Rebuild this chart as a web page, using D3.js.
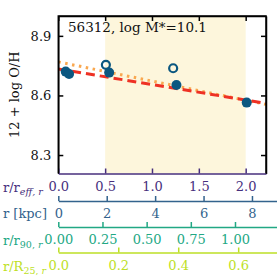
<!DOCTYPE html>
<html><head><meta charset="utf-8">
<script src="https://cdn.jsdelivr.net/npm/d3@7"></script>
<style>body{margin:0;background:#fff}svg{display:block}text{font-family:"DejaVu Serif",serif}</style>
</head><body><svg id="c" width="277" height="277"></svg>
<script>
// ---- data ----
const filledR  = [0.079, 0.115, 0.543, 1.261, 2.011];
const filledOH = [8.720, 8.708, 8.715, 8.653, 8.564];
const openR    = [0.508, 1.226];
const openOH   = [8.754, 8.737];
const fitR       = [0.0, 2.217];
const redFitOH    = [8.733, 8.560];
const orangeFitOH = [8.769, 8.555];
const shadeR = [0.5, 2.0];
const yTicks = [8.3, 8.6, 8.9];
const reffTicks = [0.0, 0.5, 1.0, 1.5, 2.0];
const kpcTicks = [0, 2, 4, 6, 8];
const r90Ticks = [0.00, 0.25, 0.50, 0.75, 1.00];
const r25Ticks = [0.0, 0.2, 0.4, 0.6];
const reffKpc = 3.87, r90InReff = 1.886, r25InReff = 3.20;
const title = "56312, log M*=10.1";

const svg = d3.select("#c");
const L = 58.3, R = 266, T = 16, B = 173.5, FULLR = 277;
const x = d3.scaleLinear().domain([0, 2.217]).range([L, R]);
const y = d3.scaleLinear().domain([8.207, 9.0]).range([B, T]);
const maxReffFull = x.invert(FULLR);

const cPurple = "#472f7d", cBlue = "#33638d", cGreen = "#22a884", cYellow = "#bddf26";
const cPoint = "#0b5780";

// shading
svg.append("rect").attr("x", x(shadeR[0])).attr("y", T).attr("width", x(shadeR[1]) - x(shadeR[0])).attr("height", B - T).attr("fill", "#fdf6dc");

// fit lines
const line = d3.line().x(d => x(d[0])).y(d => y(d[1]));
svg.append("path").attr("d", line(fitR.map((r, i) => [r, orangeFitOH[i]]))).attr("stroke", "#f9a850").attr("stroke-width", 3).attr("stroke-dasharray", "2.5,4.5").attr("fill", "none");
svg.append("path").attr("d", line(fitR.map((r, i) => [r, redFitOH[i]]))).attr("stroke", "#ee3124").attr("stroke-width", 3).attr("stroke-dasharray", "9,5").attr("fill", "none");

// points
svg.selectAll("circle.open").data(openR).enter().append("circle").attr("cx", d => x(d)).attr("cy", (d, i) => y(openOH[i])).attr("r", 4).attr("fill", "none").attr("stroke", cPoint).attr("stroke-width", 2.2);
svg.selectAll("circle.fill").data(filledR).enter().append("circle").attr("cx", d => x(d)).attr("cy", (d, i) => y(filledOH[i])).attr("r", 5).attr("fill", cPoint);

// frame axes
const yl = svg.append("g").attr("transform", `translate(${L},0)`).call(d3.axisLeft(y).tickValues(yTicks).tickSize(-5).tickSizeOuter(0).tickPadding(7).tickFormat(d3.format(".1f")));
const yr = svg.append("g").attr("transform", `translate(${R},0)`).call(d3.axisRight(y).tickValues(yTicks).tickSize(-5).tickSizeOuter(0).tickFormat(""));
const xt = svg.append("g").attr("transform", `translate(0,${T})`).call(d3.axisTop(x).tickValues(reffTicks).tickSize(-5).tickSizeOuter(0).tickFormat(""));
[yl, yr, xt].forEach(g => { g.selectAll("path,line").attr("stroke", "#000").attr("stroke-width", 1.5); g.selectAll("text").attr("font-size", 13).attr("fill", "#111").style("font-family", "DejaVu Serif"); });

// secondary bottom axes
function bottomAxis(yPos, factor, ticks, fmt, color, fullWidth) {
  const maxR = fullWidth ? maxReffFull : 2.217;
  const s = d3.scaleLinear().domain([0, maxR * factor]).range([L, fullWidth ? FULLR : R]);
  const g = svg.append("g").attr("transform", `translate(0,${yPos})`)
    .call(d3.axisBottom(s).tickValues(ticks).tickSize(-5).tickSizeOuter(0).tickPadding(8).tickFormat(d3.format(fmt)));
  g.selectAll("path,line").attr("stroke", color).attr("stroke-width", 1.5);
  g.selectAll("text").attr("font-size", 13).attr("fill", color).style("font-family", "DejaVu Serif");
  return g;
}
bottomAxis(B, 1, reffTicks, ".1f", cPurple, false);
bottomAxis(201, reffKpc, kpcTicks, "d", cBlue, true);
bottomAxis(227, 1 / r90InReff, r90Ticks, ".2f", cGreen, true);
bottomAxis(252.5, 1 / r25InReff, r25Ticks, ".1f", cYellow, true);

// frame left/top/right lines on top of data
svg.append("path").attr("d", `M${L},${B}V${T}H${R}V${B}`).attr("stroke", "#000").attr("stroke-width", 1.5).attr("fill", "none");

// axis name labels
function axisName(yPos, main, sub, color) {
  const t = svg.append("text").attr("x", 3).attr("y", yPos).attr("font-size", 13).attr("fill", color);
  t.append("tspan").text(main);
  sub.forEach(s => t.append("tspan").attr("font-size", 9.5).attr("dy", s.dy || 0).attr("font-style", s.it ? "italic" : "normal").text(s.t));
}
axisName(192, "r/r", [{t: "eff, r", it: true, dy: 3}], cPurple);
axisName(218, "r [kpc]", [], cBlue);
axisName(245, "r/r", [{t: "90,", dy: 3}, {t: " r", it: true}], cGreen);
axisName(271, "r/R", [{t: "25,", dy: 3}, {t: " r", it: true}], cYellow);

// y label
svg.append("text").attr("transform", `translate(19,${(T + B) / 2}) rotate(-90)`).attr("text-anchor", "middle").attr("font-size", 13).attr("fill", "#111").text("12 + log O/H");

// title
svg.append("text").attr("x", 68).attr("y", 32).attr("font-size", 13.5).attr("fill", "#111").text(title);
</script></body></html>
